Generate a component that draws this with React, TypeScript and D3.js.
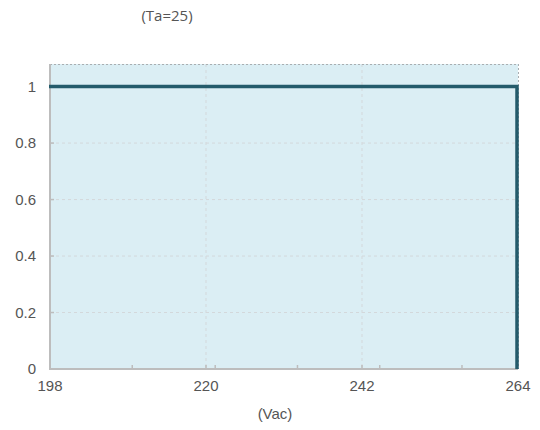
import React from "react";
import * as d3 from "d3";

const xTicks = [198, 220, 242, 264];
const xMinorTicks = [209.6, 221.3, 232.9, 244.5, 256.1];
const yTicks = [0, 0.2, 0.4, 0.6, 0.8, 1];
const seriesX = [198, 264, 264];
const seriesY = [1, 1, 0];

const W = 540, H = 430;
const left = 50, right = 518, top = 64, bottom = 369;

export default function App() {
  const x = d3.scaleLinear().domain([198, 264]).range([left, right]);
  const y = d3.scaleLinear().domain([0, 1.08]).range([bottom, top]);
  const pts: [number, number][] = seriesX.map((v, i) => [v, seriesY[i]]);
  const line = d3.line<[number, number]>().x(d => x(d[0])).y(d => y(d[1]));
  const tickFont = "'Liberation Sans', Arial, sans-serif";
  return (
    <svg width={W} height={H} style={{ position: "absolute", left: 0, top: 0, background: "#fff" }}>
      <rect x={left} y={top} width={right - left} height={bottom - top} fill="#dbeef4" />
      {yTicks.filter(t => t > 0 && t < 1).map(t => (
        <line key={"hy" + t} x1={left} x2={right} y1={y(t)} y2={y(t)} stroke="#d3d8db" strokeDasharray="3,3" strokeWidth={1} />
      ))}
      {xTicks.filter(t => t > 198 && t < 264).map(t => (
        <line key={"vx" + t} x1={x(t)} x2={x(t)} y1={top} y2={bottom} stroke="#d3d8db" strokeDasharray="3,3" strokeWidth={1} />
      ))}
      <line x1={left} x2={right} y1={top + 0.5} y2={top + 0.5} stroke="#a9aeb1" strokeDasharray="2,2" strokeWidth={1} />
      <line x1={right + 0.5} x2={right + 0.5} y1={top} y2={bottom} stroke="#a9aeb1" strokeDasharray="2,2" strokeWidth={1} />
      {xMinorTicks.map(t => (
        <line key={"mx" + t} x1={x(t)} x2={x(t)} y1={bottom - 4} y2={bottom} stroke="#bdbdbd" strokeWidth={1.5} />
      ))}
      {xTicks.filter(t => t > 198 && t < 264).map(t => (
        <line key={"tx" + t} x1={x(t)} x2={x(t)} y1={bottom - 4} y2={bottom} stroke="#bdbdbd" strokeWidth={1.5} />
      ))}
      {yTicks.filter(t => t > 0 && t < 1).map(t => (
        <line key={"ty" + t} x1={left} x2={left + 4} y1={y(t)} y2={y(t)} stroke="#bdbdbd" strokeWidth={1.5} />
      ))}
      <line x1={left} x2={left} y1={top} y2={bottom + 1} stroke="#bdbdbd" strokeWidth={2} />
      <line x1={left - 1} x2={right} y1={bottom} y2={bottom} stroke="#bdbdbd" strokeWidth={2} />
      <path d={line(pts) || ""} fill="none" stroke="#245b6b" strokeWidth={3.5} transform="translate(-1,0)" />
      {yTicks.map(t => (
        <text key={"ly" + t} x={36} y={y(t)} dy="0.35em" textAnchor="end" fontFamily={tickFont} fontSize={15} fill="#555">{String(t)}</text>
      ))}
      {xTicks.map(t => (
        <text key={"lx" + t} x={x(t)} y={391} textAnchor="middle" fontFamily={tickFont} fontSize={15} fill="#555">{String(t)}</text>
      ))}
      <text x={275} y={419} textAnchor="middle" fontFamily={tickFont} fontSize={15} fill="#555">(Vac)</text>
      <text x={167} y={21} textAnchor="middle" fontFamily="'Open Sans', sans-serif" fontSize={15} fill="#555">(Ta=25)</text>
    </svg>
  );
}
